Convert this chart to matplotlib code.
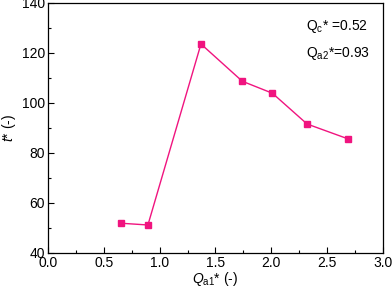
import matplotlib
matplotlib.use("Agg")
import matplotlib.pyplot as plt
from matplotlib.ticker import MultipleLocator

plt.rcParams['font.family'] = ['Liberation Sans', 'DejaVu Sans']
plt.rcParams['mathtext.fontset'] = 'custom'
plt.rcParams['mathtext.rm'] = 'Liberation Sans'
plt.rcParams['mathtext.it'] = 'Liberation Sans:italic'

qa1 = [0.654, 0.895, 1.37, 1.74, 2.01, 2.32, 2.69]
tstar = [51.9, 51.2, 123.6, 108.7, 103.9, 91.6, 85.6]

fig = plt.figure(figsize=(3.92, 2.94), dpi=100)
ax = fig.add_axes([0.1224, 0.1395, 0.8546, 0.8503])
ax.plot(qa1, tstar, color='#F0147F', marker='s', markersize=4.5, linewidth=1.0)
ax.set_xlim(0, 3.0)
ax.set_ylim(40, 140)
ax.xaxis.set_major_locator(MultipleLocator(0.5))
ax.xaxis.set_minor_locator(MultipleLocator(0.25))
ax.yaxis.set_major_locator(MultipleLocator(20))
ax.yaxis.set_minor_locator(MultipleLocator(10))
ax.tick_params(which='both', direction='in', top=False, right=False, labelsize=10, width=0.8)
ax.tick_params(which='major', length=4, pad=2)
ax.tick_params(which='minor', length=2.5)
ax.set_xticklabels([f"{v:.1f}" for v in ax.get_xticks()])
for s in ax.spines.values():
    s.set_linewidth(0.9)
ax.set_xlabel(r'$\mathit{Q}_{\mathrm{a1}}$* (-)', fontsize=10, labelpad=0)
ax.set_ylabel(r'$\mathit{t}$* (-)', fontsize=10, labelpad=2.5)
ax.text(0.77, 0.892, r'Q$_{\mathrm{c}}$* =0.52', transform=ax.transAxes, fontsize=10)
ax.text(0.77, 0.784, r'Q$_{\mathrm{a2}}$*=0.93', transform=ax.transAxes, fontsize=10)
fig.savefig('out.png', dpi=100)
